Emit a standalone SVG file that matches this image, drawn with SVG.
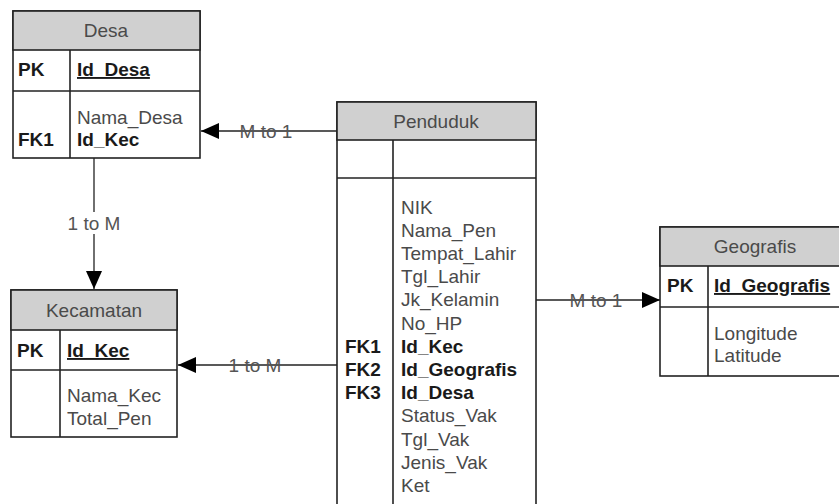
<svg xmlns="http://www.w3.org/2000/svg" width="839" height="504" viewBox="0 0 839 504">
<style>
text{font-family:"Liberation Sans",Arial,sans-serif;font-size:19px;fill:#4a4a4a}
.b{font-weight:bold;fill:#1a1a1a}
.h{text-anchor:middle;fill:#4a4a4a}
.u{text-decoration:underline}
.box{fill:#fff;stroke:#222;stroke-width:1.6}
.hd{fill:#d0d0d0;stroke:#222;stroke-width:1.6}
.ln{stroke:#222;stroke-width:1.6;fill:none}
.cn{stroke:#222;stroke-width:1.3;fill:none}
.lb{text-anchor:middle;fill:#555}
</style>
<defs>
<marker id="arr" markerWidth="18" markerHeight="16" refX="18" refY="8" orient="auto" markerUnits="userSpaceOnUse">
<path d="M0,0 L18,8 L0,16 Z" fill="#000"/>
</marker>
</defs>

<g id="connectors">
<line class="cn" x1="337" y1="131" x2="201" y2="131" marker-end="url(#arr)"/>
<text class="lb" x="266" y="138">M to 1</text>
<line class="cn" x1="94" y1="158" x2="94" y2="289" marker-end="url(#arr)"/>
<rect x="66" y="212" width="56" height="22" fill="#fff"/>
<text class="lb" x="94" y="230">1 to M</text>
<line class="cn" x1="337" y1="365" x2="178" y2="365" marker-end="url(#arr)"/>
<text class="lb" x="255" y="372">1 to M</text>
<line class="cn" x1="536" y1="300" x2="660" y2="300" marker-end="url(#arr)"/>
<text class="lb" x="596" y="307">M to 1</text>
</g>

<g id="desa">
<rect class="box" x="13" y="11" width="187" height="147"/>
<rect class="hd" x="13" y="11" width="187" height="39"/>
<line class="ln" x1="13" y1="91" x2="200" y2="91"/>
<line class="ln" x1="70" y1="50" x2="70" y2="158"/>
<text class="h" x="106" y="37">Desa</text>
<text class="b" x="18" y="76">PK</text>
<text class="b u" x="77" y="76">Id_Desa</text>
<text x="77" y="124">Nama_Desa</text>
<text class="b" x="18" y="146">FK1</text>
<text class="b" x="77" y="146">Id_Kec</text>
</g>

<g id="kecamatan">
<rect class="box" x="11" y="290" width="166" height="147"/>
<rect class="hd" x="11" y="290" width="166" height="40"/>
<line class="ln" x1="11" y1="370" x2="177" y2="370"/>
<line class="ln" x1="60" y1="330" x2="60" y2="437"/>
<text class="h" x="94" y="317">Kecamatan</text>
<text class="b" x="17" y="357">PK</text>
<text class="b u" x="67" y="357">Id_Kec</text>
<text x="67" y="402">Nama_Kec</text>
<text x="67" y="425">Total_Pen</text>
</g>

<g id="penduduk">
<rect class="box" x="337" y="102" width="199" height="420"/>
<rect class="hd" x="337" y="102" width="199" height="38"/>
<line class="ln" x1="337" y1="178" x2="536" y2="178"/>
<line class="ln" x1="393" y1="140" x2="393" y2="522"/>
<text class="h" x="436" y="128">Penduduk</text>
<text x="401" y="213.5">NIK</text>
<text x="401" y="236.7">Nama_Pen</text>
<text x="401" y="259.9">Tempat_Lahir</text>
<text x="401" y="283.1">Tgl_Lahir</text>
<text x="401" y="306.3">Jk_Kelamin</text>
<text x="401" y="329.5">No_HP</text>
<text class="b" x="345" y="352.7">FK1</text>
<text class="b" x="401" y="352.7">Id_Kec</text>
<text class="b" x="345" y="375.9">FK2</text>
<text class="b" x="401" y="375.9">Id_Geografis</text>
<text class="b" x="345" y="399.1">FK3</text>
<text class="b" x="401" y="399.1">Id_Desa</text>
<text x="401" y="422.3">Status_Vak</text>
<text x="401" y="445.5">Tgl_Vak</text>
<text x="401" y="468.7">Jenis_Vak</text>
<text x="401" y="491.9">Ket</text>
</g>

<g id="geografis">
<rect class="box" x="660" y="227" width="185" height="149"/>
<rect class="hd" x="660" y="227" width="185" height="39"/>
<line class="ln" x1="660" y1="307" x2="845" y2="307"/>
<line class="ln" x1="708" y1="266" x2="708" y2="376"/>
<text class="h" x="755" y="253">Geografis</text>
<text class="b" x="667" y="292">PK</text>
<text class="b u" x="714" y="292">Id_Geografis</text>
<text x="714" y="340">Longitude</text>
<text x="714" y="362">Latitude</text>
</g>
</svg>
